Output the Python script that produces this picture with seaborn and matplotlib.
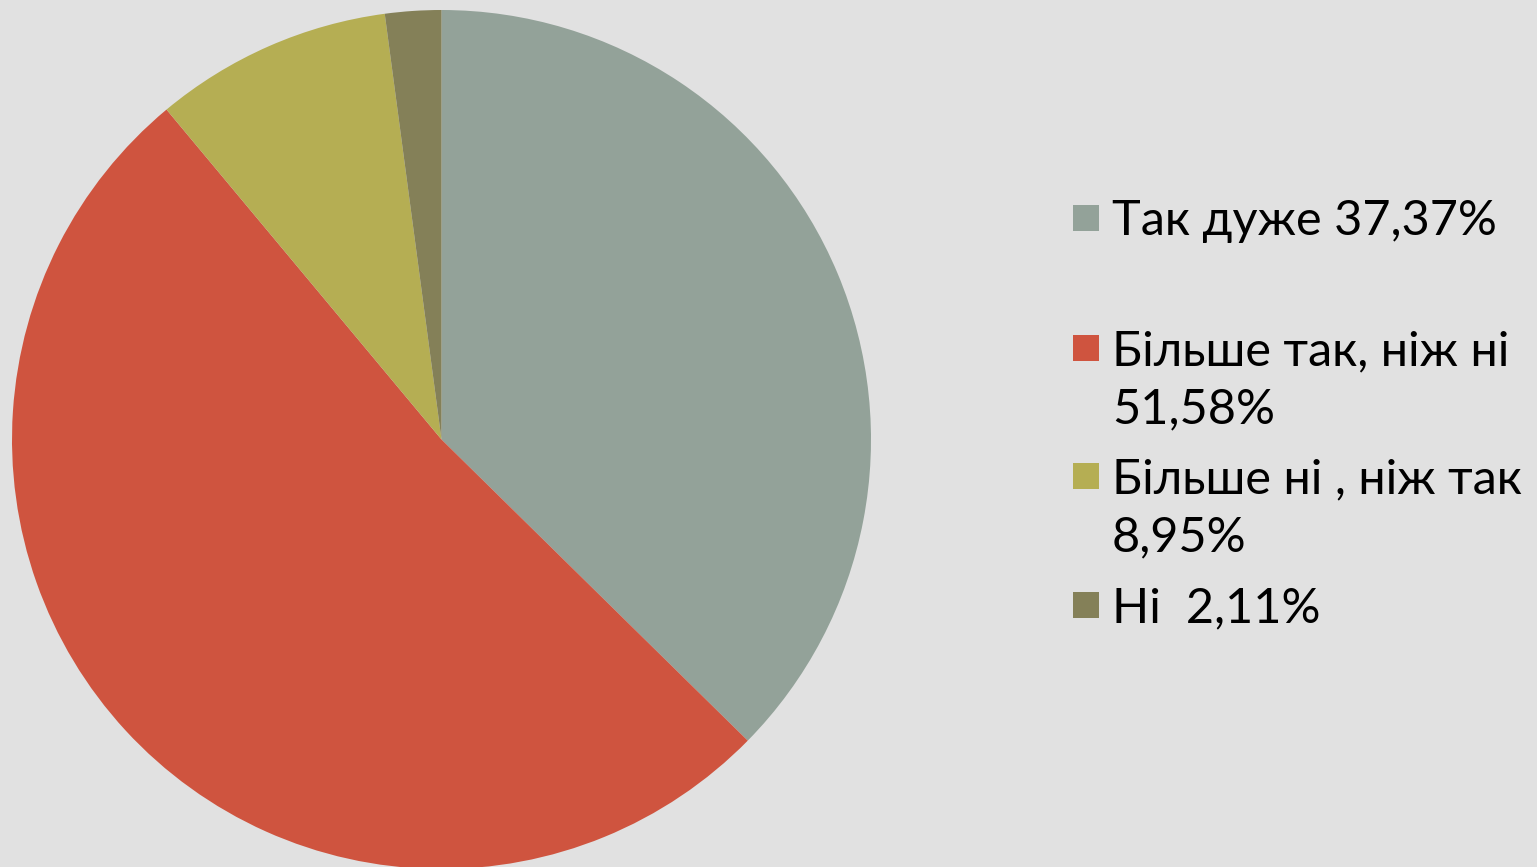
import matplotlib
matplotlib.use("Agg")
import matplotlib.pyplot as plt
import seaborn as sns
from matplotlib.patches import Rectangle

categories = ["Так дуже", "Більше так, ніж ні", "Більше ні , ніж так", "Ні "]
values = [37.37, 51.58, 8.95, 2.11]
legend_labels = ["Так дуже 37,37%", "Більше так, ніж ні\n51,58%", "Більше ні , ніж так\n8,95%", "Ні  2,11%"]
colors = ["#93A299", "#CF543F", "#B5AE53", "#848058"]

sns.set_theme(style="white")
plt.rcParams['font.family'] = ['Lato', 'DejaVu Sans']

W, H = 1537, 867
bg = "#E1E1E1"
fig = plt.figure(figsize=(W / 100, H / 100), dpi=100, facecolor=bg)

cx, cy, r = 441.5, 439.5, 429.5
ax = fig.add_axes([(cx - r) / W, (H - cy - r) / H, 2 * r / W, 2 * r / H])
ax.set_facecolor(bg)
ax.pie(values, colors=colors, startangle=90, counterclock=False, radius=1,
       wedgeprops=dict(linewidth=0))
ax.set_xlim(-1, 1)
ax.set_ylim(-1, 1)
ax.set_aspect("equal")
ax.axis("off")

baselines = [235, 365, 493, 622]
line_gap = 58
for lab, col, base in zip(legend_labels, colors, baselines):
    fig.patches.append(Rectangle((1073 / W, (H - base + 4) / H), 26 / W, 26 / H,
                                 transform=fig.transFigure, facecolor=col,
                                 edgecolor="none", figure=fig))
    for i, line in enumerate(lab.split("\n")):
        fig.text(1112 / W, (H - base - i * line_gap) / H, line, fontsize=35,
                 color="black", va="baseline", ha="left")

fig.savefig("out.png", dpi=100, facecolor=bg)
